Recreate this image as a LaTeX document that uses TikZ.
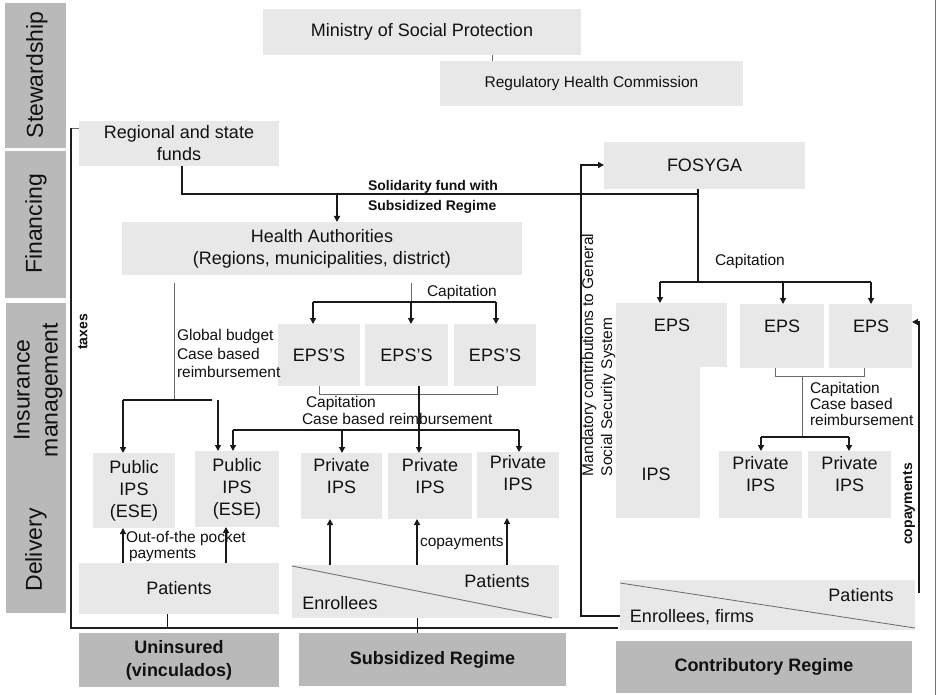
\documentclass[tikz,border=0pt]{standalone}
\usepackage{fontspec}
\setmainfont{Liberation Sans}
\usetikzlibrary{arrows.meta}
\definecolor{boxc}{HTML}{E8E8E8}
\definecolor{labc}{HTML}{B9B9B9}
\definecolor{txtc}{HTML}{111111}
\definecolor{thinc}{HTML}{6A6A6A}
\newcommand\fsM{\fontsize{18}{22}\selectfont}
\newcommand\fsS{\fontsize{15.5}{18.5}\selectfont}
\newcommand\fsB{\bfseries\fontsize{14}{20}\selectfont}
\newcommand\fsL{\fontsize{23}{28}\selectfont}
\newcommand\fsR{\bfseries\fontsize{18}{23}\selectfont}
\begin{document}
\begin{tikzpicture}[x=1pt,y=-1pt,
  box/.style={fill=boxc, draw=none, inner sep=0pt, outer sep=0pt, align=center, text=txtc, font=\fsM},
  lab/.style={fill=labc, draw=none, inner sep=0pt, outer sep=0pt, align=center, text=txtc, font=\fsL},
  reg/.style={fill=labc, draw=none, inner sep=0pt, outer sep=0pt, align=center, text=txtc, font=\fsR},
  txt/.style={inner sep=0pt, outer sep=0pt, text=txtc, font=\fsM, align=center},
  stxt/.style={inner sep=0pt, outer sep=0pt, text=txtc, font=\fsS, align=left, anchor=west},
  ln/.style={line width=1.3pt, draw=black!90},
  thin/.style={line width=0.9pt, draw=thinc},
  arr/.style={ln, -{Triangle[width=6pt,length=6pt]}},
]
\fill[white] (0,0) rectangle (937,695);
\useasboundingbox (0,0) rectangle (937,695);
\draw[line width=1pt, draw=black!55] (935,0) -- (935,695);

% left column labels
\node[lab, minimum width=61pt, minimum height=145pt] (stew) at (35.5,75.5) {};
\node[txt, font=\fsL, rotate=90] (stewt) at (37,75) {Stewardship};
\node[lab, minimum width=61pt, minimum height=147pt] (fin) at (35.5,224.5) {};
\node[txt, font=\fsL, rotate=90] (fint) at (36,224) {Financing};
\node[lab, minimum width=60pt, minimum height=310pt] (insdel) at (36,458) {};
\node[txt, font=\fsL, rotate=90] (inst) at (38,390) {Insurance\\management};
\node[txt, font=\fsL, rotate=90] (delt) at (36,550) {Delivery};

% stewardship
\node[box, minimum width=318pt, minimum height=46pt] (min) at (422,32) {Ministry of Social Protection};
\node[box, font=\fsS, minimum width=303pt, minimum height=45pt] (rhc) at (591.5,83.5) {Regulatory Health Commission};
\draw[thin] (492,0 |- min.south) -- (492,0 |- rhc.north);

% financing
\node[box, minimum width=200pt, minimum height=45pt] (regf) at (179,143.5) {Regional and state\\funds};
\node[box, minimum width=400pt, minimum height=53pt] (ha) at (322,248.5) {Health Authorities\\(Regions, municipalities, district)};
\node[box, minimum width=201pt, minimum height=47pt] (fos) at (704.5,165.5) {FOSYGA};
\node[txt, font=\fsB, align=left, anchor=west] (sol) at (368,197) {Solidarity fund with\\Subsidized Regime};

\coordinate (j1) at (182,194);
\coordinate (j2) at (698,194);
\coordinate (j3) at (698,282);
\draw[ln] ([xshift=3pt]regf.south) -- (j1) -- (j2);
\draw[ln] (j2 |- fos.south) -- (j3);
\draw[arr] (337,0 |- j1) -- (337,0 |- ha.north);

% taxes bracket
\coordinate (t1) at (71,128);
\coordinate (t2) at (71,628);
\coordinate (t3) at (618,628);
\draw[thin] (regf.west |- t1) -- (t1);
\draw[line width=1.6pt, draw=black!88] (t1) -- (t2);
\draw[line width=2.2pt, draw=black!88] ([xshift=-0.8pt]t2) -- (t3);
\node[txt, font=\fsB, rotate=90] (tax) at (83,332) {taxes};

% subsidized EPS'S
\node[box, minimum width=82pt, minimum height=62pt] (e1) at (319,355) {EPS'S};
\node[box, minimum width=83pt, minimum height=62pt] (e2) at (406.5,355) {EPS'S};
\node[box, minimum width=82pt, minimum height=62pt] (e3) at (495,355) {EPS'S};

\draw[thin] (411,283) -- (411,302);
\draw[arr] (411,302) -- (411,0 |- e2.north);
\draw[ln] (313,302) -- (496,302);
\draw[arr] (313,302) -- (313,0 |- e1.north);
\draw[arr] (496,302) -- (496,0 |- e3.north);
\node[stxt] (cap1) at (427,292) {Capitation};

% public branch
\node[box, minimum width=82pt, minimum height=75pt] (p1) at (134,490.5) {Public\\IPS\\(ESE)};
\node[box, minimum width=84pt, minimum height=76pt] (p2) at (237,489) {Public\\IPS\\(ESE)};
\draw[thin] (174,283) -- (174,400);
\draw[ln] (123,400) -- (212,400);
\draw[arr] (123,400) -- (123,0 |- p1.north);
\draw[arr] (218,400) -- (218,0 |- p2.north);
\node[stxt] (gb) at (177,353.5) {Global budget\\Case based\\reimbursement};

% private subsidized
\node[box, minimum width=81pt, minimum height=66pt] (q1) at (341.5,486) {};
\node[txt] (q1t) at (341.5,476) {Private\\IPS};
\node[box, minimum width=84pt, minimum height=66pt] (q2) at (430,486) {};
\node[txt] (q2t) at (430,476) {Private\\IPS};
\node[box, minimum width=82pt, minimum height=66pt] (q3) at (518,485) {};
\node[txt] (q3t) at (518,473.5) {Private\\IPS};

\draw[thin] (319,0 |- e1.south) -- (319,394) -- (497,394) -- (497,0 |- e3.south);
\draw[arr] (419,0 |- e2.south) -- (419,0 |- q2.north);
\draw[ln] (233,430) -- (519,430);
\draw[arr] (233,430) -- (233,0 |- p2.north);
\draw[arr] (342,430) -- (342,0 |- q1.north);
\draw[arr] (519,430) -- (519,0 |- q3.north);
\node[stxt] (cap2) at (306,403) {Capitation};
\node[stxt] (cbr) at (302,419) {Case based reimbursement};

% patients
\node[box, minimum width=200pt, minimum height=51pt] (patu) at (179,588.5) {Patients};
\node[box, minimum width=267pt, minimum height=53pt] (pats) at (425.5,591.5) {};
\draw[thin, line width=0.8pt] (292,566) -- (552,618);
\node[txt] (patst) at (497,581) {Patients};
\node[txt] (enrt) at (340,603) {Enrollees};

\draw[arr] (123,0 |- patu.north) -- (123,0 |- p1.south);
\draw[arr] (226,0 |- patu.north) -- (226,0 |- p2.south);
\node[stxt] (oop1) at (126,538) {Out-of-the pocket};
\node[stxt] (oop2) at (129,555) {payments};

\draw[arr] (330,0 |- pats.north) -- (330,0 |- q1.south);
\draw[arr] (417,0 |- pats.north) -- (417,0 |- q2.south);
\draw[arr] (507,0 |- pats.north) -- (507,0 |- q3.south);
\node[stxt] (cop1) at (420,543) {copayments};

\draw[ln, line width=1pt] (167,0 |- patu.south) -- (167,628);
\draw[ln, line width=1pt] (417,0 |- pats.south) -- (417,633);

% regime boxes
\node[reg, minimum width=200pt, minimum height=54pt] (uni) at (179,660) {Uninsured\\(vinculados)};
\node[reg, minimum width=267pt, minimum height=53pt] (sub) at (432.5,659.5) {Subsidized Regime};
\node[reg, minimum width=296pt, minimum height=52pt] (con) at (764,667) {Contributory Regime};

% contributory side
\node[box, minimum width=111pt, minimum height=64pt] (ra) at (671.5,335) {};
\node[box, minimum width=84pt, minimum height=152pt] (rb) at (658,442) {};
\node[txt] (rat) at (672,325) {EPS};
\node[txt] (rbt) at (656,474) {IPS};
\node[box, minimum width=84pt, minimum height=64pt] (r2) at (782,336) {};
\node[txt] (r2t) at (782,326) {EPS};
\node[box, minimum width=83pt, minimum height=64pt] (r3) at (870.5,336) {};
\node[txt] (r3t) at (871,326) {EPS};

\draw[ln] (660,282) -- (871,282);
\draw[arr] (660,282) -- (660,0 |- ra.north);
\draw[arr] (783,282) -- (783,0 |- r2.north);
\draw[arr] (871,282) -- (871,0 |- r3.north);
\node[stxt] (cap3) at (715,261) {Capitation};

\node[box, minimum width=83pt, minimum height=67pt] (s1) at (760.5,484.5) {};
\node[txt] (s1t) at (760.5,474) {Private\\IPS};
\node[box, minimum width=83pt, minimum height=67pt] (s2) at (849.5,484.5) {};
\node[txt] (s2t) at (849.5,474) {Private\\IPS};

\draw[thin] (775,0 |- r2.south) -- (775,376) -- (864,376) -- (864,0 |- r3.south);
\draw[thin] (802,376) -- (802,437);
\draw[ln] (761,437) -- (849,437);
\draw[arr] (761,437) -- (761,0 |- s1.north);
\draw[arr] (849,437) -- (849,0 |- s2.north);
\node[stxt, font=\fontsize{15.5}{16}\selectfont] (cap4) at (810,404) {Capitation\\Case based\\reimbursement};

\node[box, minimum width=295pt, minimum height=50pt] (patc) at (767.5,605) {};
\draw[thin, line width=0.8pt] (620,583) -- (915,628);
\node[txt] (patct) at (861,595) {Patients};
\node[txt] (enfc) at (692,617) {Enrollees, firms};

\coordinate (m1) at (581,616);
\coordinate (m2) at (581,165);
\draw[arr] (patc.west |- m1) -- (m1) -- (m2) -- (fos.west |- m2);
\node[inner sep=0pt, outer sep=0pt, text=txtc, font=\fontsize{15.5}{19}\selectfont, align=left, rotate=90, anchor=north west] (mand) at (582,476) {Mandatory contributions to General\\Social Security System};

\coordinate (k1) at (919,593);
\coordinate (k2) at (919,322);
\draw[arr] (k1) -- (k2) -- (r3.east |- k2);
\node[txt, font=\fsB, rotate=90] (cop2) at (909,504) {copayments};
\end{tikzpicture}
\end{document}
